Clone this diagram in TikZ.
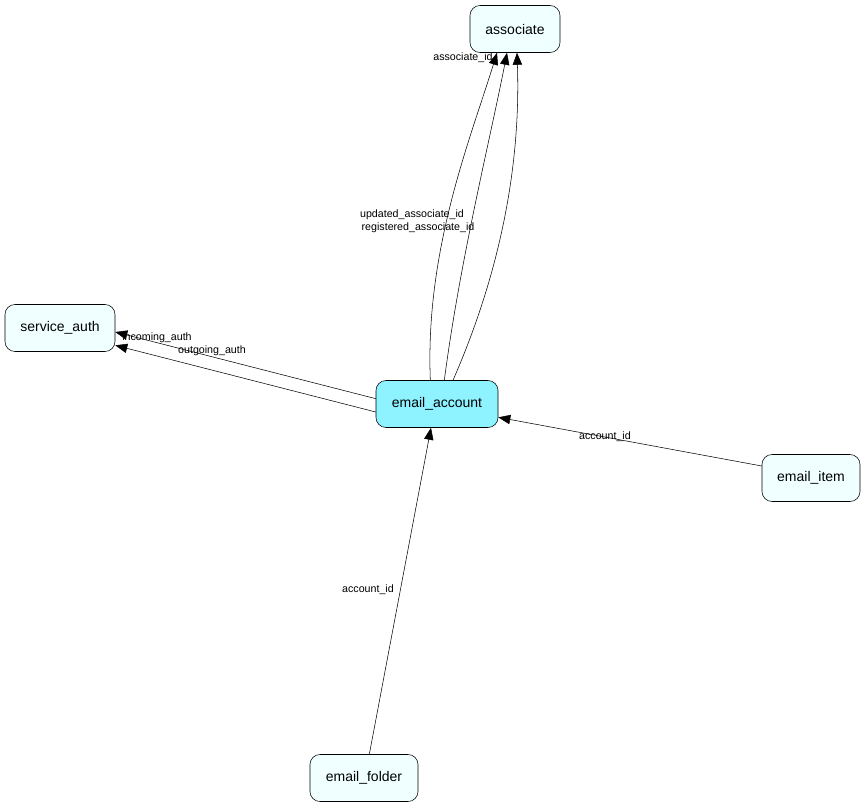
\documentclass[tikz,border=0pt]{standalone}
\usepackage{fontspec}
\setmainfont{Liberation Sans}
\usetikzlibrary{arrows.meta}
\definecolor{lite}{HTML}{F0FFFF}
\definecolor{main}{HTML}{8EF3FF}
\begin{document}
\begin{tikzpicture}[x=0.75pt,y=-0.75pt,
 tbl/.style={draw,rounded corners=7.5pt,fill=lite,minimum height=35.25pt,inner xsep=8pt,font=\fontsize{10.5}{12}\selectfont},
 lbl/.style={font=\fontsize{8}{9}\selectfont,inner sep=0.5pt},
 fk/.style={draw,-{Triangle[length=9pt,width=7pt]}}]
\useasboundingbox (0,0) rectangle (867,809);
\node[tbl,minimum width=67.5pt] (as) at (515,29) {associate};
\node[tbl,minimum width=82.5pt] (sa) at (60,328) {service\_auth};
\node[tbl,minimum width=91.5pt,fill=main] (ea) at (437,404) {email\_account};
\node[tbl,minimum width=73.5pt] (ei) at (811,478) {email\_item};
\node[tbl,minimum width=81pt] (ef) at (364,778) {email\_folder};
\draw[fk] ([xshift=-5pt]ea.north) .. controls (425,250) and (470,140) .. ([xshift=-13.5pt]as.south);
\draw[fk] ([xshift=5.5pt]ea.north) .. controls (460,260) and (490,140) .. ([xshift=-6pt]as.south);
\draw[fk] ([xshift=12pt]ea.north) .. controls (510,250) and (520,140) .. ([xshift=1.5pt]as.south);
\node[lbl] (l1) at (463,58) {associate\_id};
\node[lbl] (l2) at (412,215) {updated\_associate\_id};
\node[lbl] (l3) at (418,228) {registered\_associate\_id};
\draw[fk] ([yshift=4pt]ea.west) -- ([yshift=-3pt]sa.east);
\draw[fk] ([yshift=-6pt]ea.west) -- ([yshift=-13pt]sa.east);
\node[lbl] (l4) at (157,338) {incoming\_auth};
\node[lbl] (l5) at (212,351) {outgoing\_auth};
\draw[fk] ([yshift=9pt]ei.west) -- ([yshift=-10pt]ea.east);
\node[lbl] (l6) at (605,437) {account\_id};
\draw[fk] ([xshift=4pt]ef.north) -- ([xshift=-4.5pt]ea.south);
\node[lbl] (l7) at (368,590) {account\_id};
\end{tikzpicture}
\end{document}
